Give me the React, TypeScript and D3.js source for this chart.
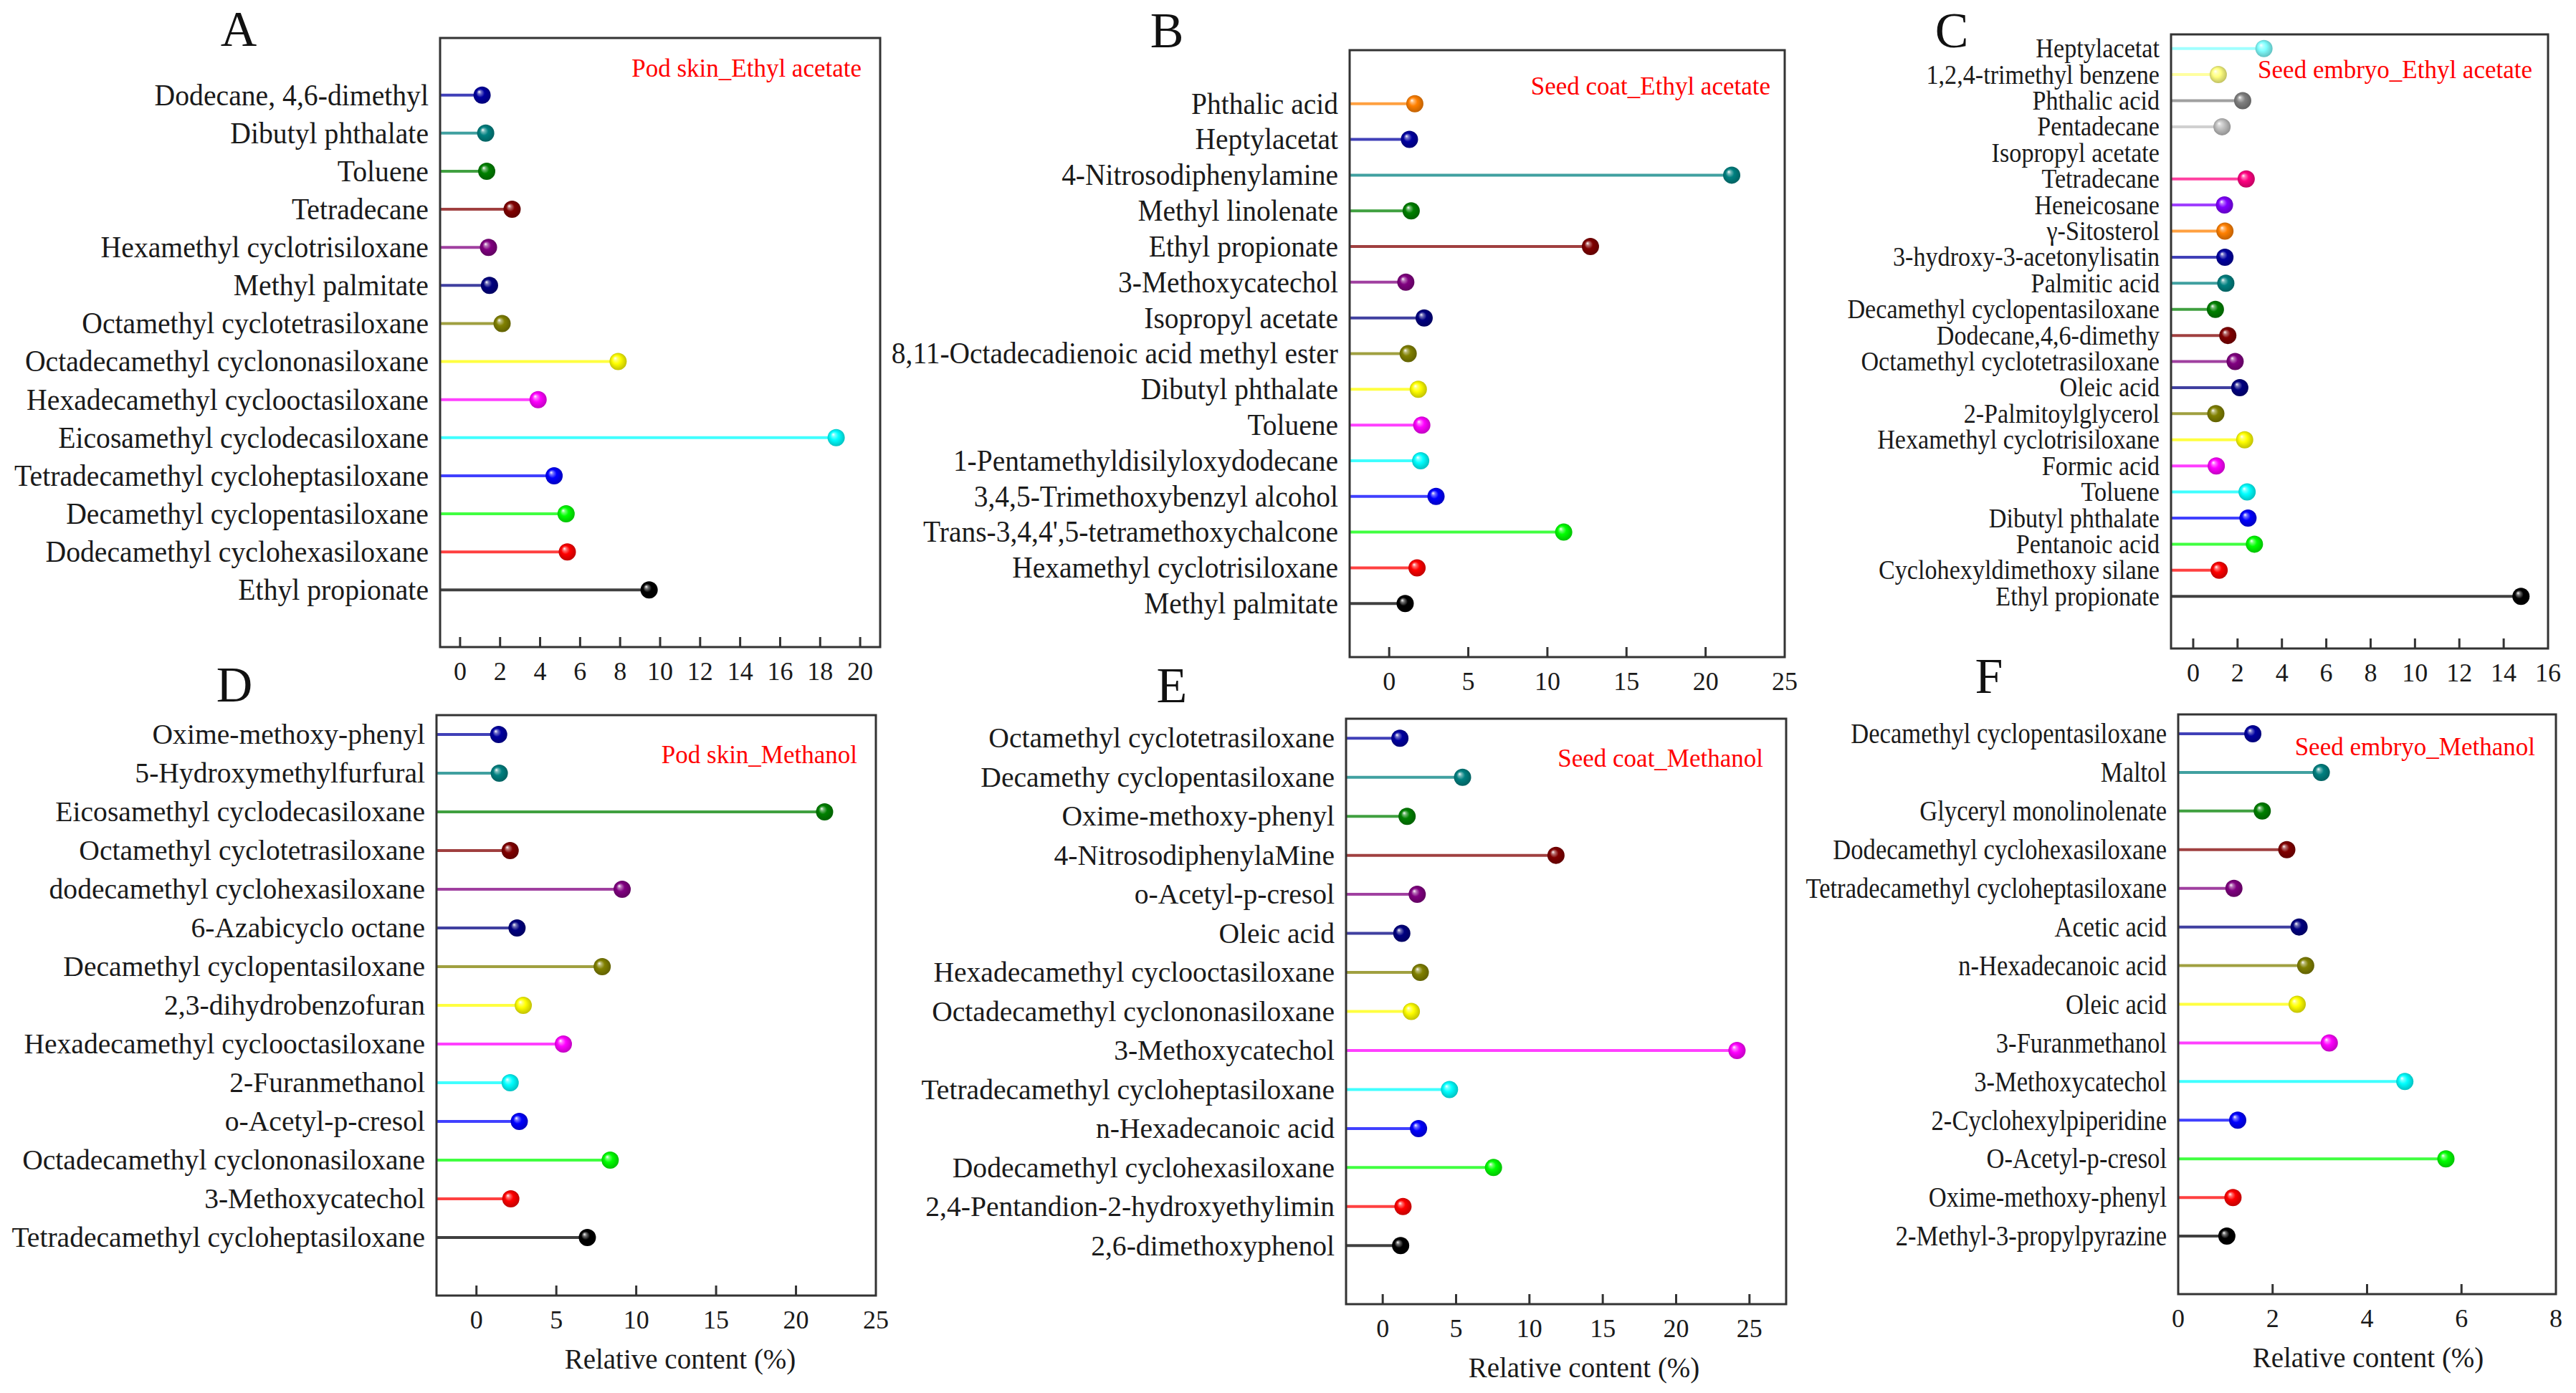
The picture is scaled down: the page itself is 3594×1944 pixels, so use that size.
import React from "react";
import * as d3 from "d3";

// ---------- DATA ----------
const namesA = ["Dodecane, 4,6-dimethyl", "Dibutyl phthalate", "Toluene", "Tetradecane", "Hexamethyl cyclotrisiloxane", "Methyl palmitate", "Octamethyl cyclotetrasiloxane", "Octadecamethyl cyclononasiloxane", "Hexadecamethyl cyclooctasiloxane", "Eicosamethyl cyclodecasiloxane", "Tetradecamethyl cycloheptasiloxane", "Decamethyl cyclopentasiloxane", "Dodecamethyl cyclohexasiloxane", "Ethyl propionate"];
const valuesA = [1.1, 1.28, 1.33, 2.6, 1.42, 1.47, 2.1, 7.9, 3.9, 18.8, 4.7, 5.3, 5.36, 9.45];
const ticksA = [0, 2, 4, 6, 8, 10, 12, 14, 16, 18, 20];

const namesB = ["Phthalic acid", "Heptylacetat", "4-Nitrosodiphenylamine", "Methyl linolenate", "Ethyl propionate", "3-Methoxycatechol", "Isopropyl acetate", "8,11-Octadecadienoic acid methyl ester", "Dibutyl phthalate", "Toluene", "1-Pentamethyldisilyloxydodecane", "3,4,5-Trimethoxybenzyl alcohol", "Trans-3,4,4',5-tetramethoxychalcone", "Hexamethyl cyclotrisiloxane", "Methyl palmitate"];
const valuesB = [1.62, 1.28, 21.65, 1.39, 12.72, 1.05, 2.21, 1.2, 1.84, 2.06, 1.99, 2.96, 11.03, 1.76, 1.01];
const ticksB = [0, 5, 10, 15, 20, 25];

const namesC = ["Heptylacetat", "1,2,4-trimethyl benzene", "Phthalic acid", "Pentadecane", "Isopropyl acetate", "Tetradecane", "Heneicosane", "γ-Sitosterol", "3-hydroxy-3-acetonylisatin", "Palmitic acid", "Decamethyl cyclopentasiloxane", "Dodecane,4,6-dimethy", "Octamethyl cyclotetrasiloxane", "Oleic acid", "2-Palmitoylglycerol", "Hexamethyl cyclotrisiloxane", "Formic acid", "Toluene", "Dibutyl phthalate", "Pentanoic acid", "Cyclohexyldimethoxy silane", "Ethyl propionate"];
const valuesC = [3.19, 1.13, 2.23, 1.3, 1.5, 2.39, 1.41, 1.43, 1.43, 1.47, 1.0, 1.56, 1.89, 2.1, 1.02, 2.32, 1.04, 2.43, 2.47, 2.76, 1.17, 14.78];
const ticksC = [0, 2, 4, 6, 8, 10, 12, 14, 16];

const namesD = ["Oxime-methoxy-phenyl", "5-Hydroxymethylfurfural", "Eicosamethyl cyclodecasiloxane", "Octamethyl cyclotetrasiloxane", "dodecamethyl cyclohexasiloxane", "6-Azabicyclo octane", "Decamethyl cyclopentasiloxane", "2,3-dihydrobenzofuran", "Hexadecamethyl cyclooctasiloxane", "2-Furanmethanol", "o-Acetyl-p-cresol", "Octadecamethyl cyclononasiloxane", "3-Methoxycatechol", "Tetradecamethyl cycloheptasiloxane"];
const valuesD = [1.39, 1.43, 21.79, 2.11, 9.12, 2.54, 7.87, 2.93, 5.44, 2.11, 2.68, 8.37, 2.15, 6.94];
const ticksD = [0, 5, 10, 15, 20, 25];

const namesE = ["Octamethyl cyclotetrasiloxane", "Decamethy cyclopentasiloxane", "Oxime-methoxy-phenyl", "4-NitrosodiphenylaMine", "o-Acetyl-p-cresol", "Oleic acid", "Hexadecamethyl cyclooctasiloxane", "Octadecamethyl cyclononasiloxane", "3-Methoxycatechol", "Tetradecamethyl cycloheptasiloxane", "n-Hexadecanoic acid", "Dodecamethyl cyclohexasiloxane", "2,4-Pentandion-2-hydroxyethylimin", "2,6-dimethoxyphenol"];
const valuesE = [1.17, 5.44, 1.66, 11.81, 2.35, 1.3, 2.56, 1.95, 24.15, 4.55, 2.44, 7.55, 1.38, 1.22];
const ticksE = [0, 5, 10, 15, 20, 25];

const namesF = ["Decamethyl cyclopentasiloxane", "Maltol", "Glyceryl monolinolenate", "Dodecamethyl cyclohexasiloxane", "Tetradecamethyl cycloheptasiloxane", "Acetic acid", "n-Hexadecanoic acid", "Oleic acid", "3-Furanmethanol", "3-Methoxycatechol", "2-Cyclohexylpiperidine", "O-Acetyl-p-cresol", "Oxime-methoxy-phenyl", "2-Methyl-3-propylpyrazine"];
const valuesF = [1.58, 3.03, 1.78, 2.3, 1.18, 2.56, 2.7, 2.52, 3.2, 4.8, 1.26, 5.67, 1.16, 1.03];
const ticksF = [0, 2, 4, 6, 8];

const xTitle = "Relative content (%)";

// Origin default colour increment list (applied from the bottom row upward)
const PALETTE = ["#000000", "#FF0000", "#00FF00", "#0000FF", "#00FFFF", "#FF00FF", "#FFFF00", "#808000", "#000080", "#800080", "#800000", "#008000", "#008080", "#0000A0", "#FF8000", "#8000FF", "#FF0080", "#FFFFFF", "#C0C0C0", "#808080", "#FFFF80", "#80FFFF", "#FF80FF", "#404040"];

// ---------- LAYOUT ----------
const FONT = "'Liberation Serif', 'Times New Roman', serif";

type Panel = {
  letter: string; letterX: number; letterY: number;
  names: string[]; values: number[]; ticks: number[]; domain: [number, number];
  L: number; R: number; T: number; B: number; padTop: number; padBottom: number;
  subtitle: string; subX: number; subY: number;
  labelSize: number; labelSx: number; titleX: number | null;
};

const panels: Panel[] = [
  { letter: "A", letterX: 333, letterY: 64, names: namesA, values: valuesA, ticks: ticksA, domain: [-1, 21], L: 614, R: 1228, T: 53, B: 903, padTop: 1.5, padBottom: 1.5, subtitle: "Pod skin_Ethyl acetate", subX: 1202, subY: 107, labelSize: 42, labelSx: 0.945, titleX: null },
  { letter: "B", letterX: 1628, letterY: 66, names: namesB, values: valuesB, ticks: ticksB, domain: [-2.5, 25], L: 1883, R: 2490, T: 70, B: 917, padTop: 1.5, padBottom: 1.5, subtitle: "Seed coat_Ethyl acetate", subX: 2470, subY: 132, labelSize: 42, labelSx: 0.94, titleX: null },
  { letter: "C", letterX: 2723, letterY: 66, names: namesC, values: valuesC, ticks: ticksC, domain: [-1, 16], L: 3029, R: 3555, T: 48, B: 905, padTop: 0.54, padBottom: 2, subtitle: "Seed embryo_Ethyl acetate", subX: 3533, subY: 109, labelSize: 38, labelSx: 0.9, titleX: null },
  { letter: "D", letterX: 327, letterY: 979, names: namesD, values: valuesD, ticks: ticksD, domain: [-2.5, 25], L: 609, R: 1222, T: 998, B: 1808, padTop: 0.5, padBottom: 1.5, subtitle: "Pod skin_Methanol", subX: 1196, subY: 1065, labelSize: 40, labelSx: 0.99, titleX: 949 },
  { letter: "E", letterX: 1635, letterY: 980, names: namesE, values: valuesE, ticks: ticksE, domain: [-2.5, 27.5], L: 1878, R: 2492, T: 1003, B: 1820, padTop: 0.5, padBottom: 1.5, subtitle: "Seed coat_Methanol", subX: 2460, subY: 1070, labelSize: 40, labelSx: 0.99, titleX: 2210 },
  { letter: "F", letterX: 2775, letterY: 967, names: namesF, values: valuesF, ticks: ticksF, domain: [0, 8], L: 3039, R: 3566, T: 997, B: 1806, padTop: 0.5, padBottom: 1.5, subtitle: "Seed embryo_Methanol", subX: 3537, subY: 1054, labelSize: 40, labelSx: 0.865, titleX: 3304 },
];

const gradId = (c: string) => "ball" + c.replace("#", "");

function PanelView({ p }: { p: Panel }) {
  const n = p.names.length;
  const x = d3.scaleLinear().domain(p.domain).range([p.L, p.R]);
  const y = d3.scaleLinear().domain([-p.padTop, n - 1 + p.padBottom]).range([p.T, p.B]);
  return (
    <g>
      <text x={p.letterX} y={p.letterY} fontFamily={FONT} fontSize={70} textAnchor="middle" fill="#111">{p.letter}</text>
      {p.names.map((name, i) => {
        const c = PALETTE[n - 1 - i];
        const cy = y(i);
        const cx = x(p.values[i]);
        const isWhite = c === "#FFFFFF";
        return (
          <g key={i}>
            <line x1={p.L} x2={cx} y1={cy} y2={cy} stroke={c} strokeWidth={4} strokeOpacity={0.75} />
            <circle cx={cx} cy={cy} r={12} fill={isWhite ? "#FFFFFF" : `url(#${gradId(c)})`} />
            <text transform={`translate(${p.L - 16},${cy}) scale(${p.labelSx},1)`} dy="0.33em" textAnchor="end" fontFamily={FONT} fontSize={p.labelSize} fill="#1a1a1a">{name}</text>
          </g>
        );
      })}
      <rect x={p.L} y={p.T} width={p.R - p.L} height={p.B - p.T} fill="none" stroke="#333" strokeWidth={3} />
      {p.ticks.map((t) => (
        <g key={t}>
          {x(t) > p.L + 2 && x(t) < p.R - 2 ? <line x1={x(t)} x2={x(t)} y1={p.B} y2={p.B - 14} stroke="#333" strokeWidth={3} /> : null}
          <text x={x(t)} y={p.B + 46} textAnchor="middle" fontFamily={FONT} fontSize={36} fill="#1a1a1a">{t}</text>
        </g>
      ))}
      <text x={p.subX} y={p.subY} textAnchor="end" fontFamily={FONT} fontSize={35} fill="#FF0000">{p.subtitle}</text>
      {p.titleX !== null ? (
        <text x={p.titleX} y={p.B + 102} textAnchor="middle" fontFamily={FONT} fontSize={39} fill="#1a1a1a">{xTitle}</text>
      ) : null}
    </g>
  );
}

export default function App() {
  return (
    <svg width={3594} height={1944} style={{ position: "absolute", left: 0, top: 0, background: "#fff" }}>
      <defs>
        {PALETTE.map((c) => {
          const dark = d3.color(c)!.darker(0.9).formatHex();
          const light = d3.interpolateRgb(c, "#ffffff")(0.45);
          return (
            <radialGradient key={c} id={gradId(c)} cx="50%" cy="50%" r="55%" fx="32%" fy="30%">
              <stop offset="0%" stopColor="#ffffff" />
              <stop offset="18%" stopColor={light} />
              <stop offset="45%" stopColor={c} />
              <stop offset="100%" stopColor={dark} />
            </radialGradient>
          );
        })}
      </defs>
      <rect x={0} y={0} width={3594} height={1944} fill="#fff" />
      {panels.map((p) => <PanelView key={p.letter} p={p} />)}
    </svg>
  );
}
